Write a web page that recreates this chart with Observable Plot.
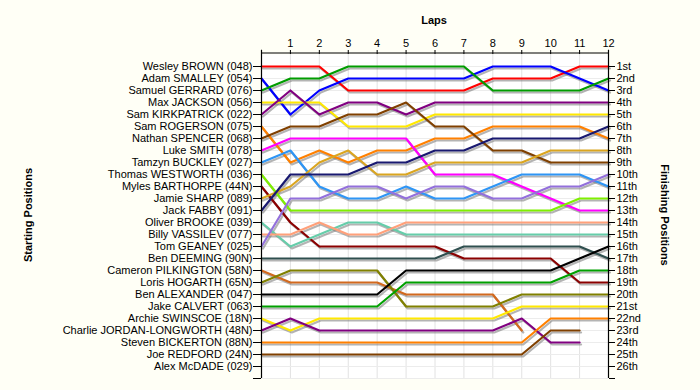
<!DOCTYPE html>
<html>
<head>
<meta charset="utf-8">
<script src="https://cdn.jsdelivr.net/npm/d3@7"></script>
<script src="https://cdn.jsdelivr.net/npm/@observablehq/plot@0.6"></script>
<style>
  html, body { margin: 0; padding: 0; background: #fffff6; }
  #chart { width: 700px; height: 390px; }
</style>
</head>
<body>
<div id="chart"></div>
<script>
const laps = [0,1,2,3,4,5,6,7,8,9,10,11,12];
const lapTicks = [1,2,3,4,5,6,7,8,9,10,11,12];
const drivers = [
  "Wesley BROWN (048)", "Adam SMALLEY (054)", "Samuel GERRARD (076)", "Max JACKSON (056)",
  "Sam KIRKPATRICK (022)", "Sam ROGERSON (075)", "Nathan SPENCER (068)", "Luke SMITH (078)",
  "Tamzyn BUCKLEY (027)", "Thomas WESTWORTH (036)", "Myles BARTHORPE (44N)", "Jamie SHARP (089)",
  "Jack FABBY (091)", "Oliver BROOKE (039)", "Billy VASSILEV (077)", "Tom GEANEY (025)",
  "Ben DEEMING (90N)", "Cameron PILKINGTON (58N)", "Loris HOGARTH (65N)", "Ben ALEXANDER (047)",
  "Jake CALVERT (063)", "Archie SWINSCOE (18N)", "Charlie JORDAN-LONGWORTH (48N)",
  "Steven BICKERTON (88N)", "Joe REDFORD (24N)", "Alex McDADE (029)"
];
const finishLabels = [
  "1st","2nd","3rd","4th","5th","6th","7th","8th","9th","10th","11th","12th","13th",
  "14th","15th","16th","17th","18th","19th","20th","21st","22nd","23rd","24th","25th","26th"
];
const colors = [
  "#ff0000","#0000ff","#009c00","#ffe800","#800080","#ff8000","#804000","#ff00ff",
  "#2e95f5","#7fef00","#8b0000","#daa520","#191970","#66cdaa","#ffa07a","#9370db",
  "#2f4f4f","#d2691e","#808000","#000000","#00a000","#ffe800","#800080","#ff8000","#804000","#888888"
];
// position of each driver after each lap (laps 0..12); null = not running
const positions = [
  [1,1,1,3,3,3,3,3,2,2,2,1,1],
  [2,5,3,2,2,2,2,2,1,1,1,2,3],
  [3,2,2,1,1,1,1,1,3,3,3,3,2],
  [4,4,4,6,6,6,5,5,5,5,5,5,5],
  [5,3,5,4,4,5,4,4,4,4,4,4,4],
  [6,9,8,9,8,8,7,7,6,6,6,6,7],
  [7,6,6,5,5,4,6,6,8,8,9,9,9],
  [8,7,7,7,7,7,10,10,10,11,12,13,13],
  [9,8,11,12,12,11,12,12,11,10,10,10,11],
  [10,13,13,13,13,13,13,13,13,13,13,12,12],
  [11,14,16,16,16,16,16,17,17,17,17,19,19],
  [12,11,9,8,10,10,9,9,9,9,8,8,8],
  [13,10,10,10,9,9,8,8,7,7,7,7,6],
  [14,16,15,14,14,15,15,15,15,15,15,15,15],
  [15,15,14,15,15,14,14,14,14,14,14,14,14],
  [16,12,12,11,11,12,11,11,12,12,11,11,10],
  [17,17,17,17,17,17,17,16,16,16,16,16,17],
  [18,19,19,19,19,20,20,20,20,23,null,null,null],
  [19,18,18,18,18,21,21,21,21,20,20,20,20],
  [20,20,20,20,20,18,18,18,18,18,18,17,16],
  [21,21,21,21,21,19,19,19,19,19,19,18,18],
  [22,23,22,22,22,22,22,22,22,21,21,21,21],
  [23,22,23,23,23,23,23,23,23,22,24,24,null],
  [24,24,24,24,24,24,24,24,24,24,22,22,22],
  [25,25,25,25,25,25,25,25,25,25,23,23,null],
  [null,null,null,null,null,null,null,null,null,null,null,null,null]
];

const rows = [];
positions.forEach((arr, i) => {
  arr.forEach((p, j) => {
    if (p != null) rows.push({driver: drivers[i], idx: i, lap: laps[j], pos: p});
  });
});
const yTicks = d3.range(1, 28);

const chart = Plot.plot({
  width: 700,
  height: 390,
  marginLeft: 261,
  marginRight: 92,
  marginTop: 54,
  marginBottom: 12,
  style: {fontFamily: "'Liberation Sans', Arial, sans-serif", fontSize: "11px", background: "transparent", color: "#000"},
  x: {domain: [0, 12], axis: null},
  y: {domain: [0, 27], reverse: true, axis: null},
  marks: [
    Plot.frame({fill: "white", stroke: "none"}),
    Plot.gridX(lapTicks.slice(0, 11), {stroke: "#e2e2e2", strokeOpacity: 1, strokeWidth: 1}),
    Plot.gridY(yTicks, {stroke: "#ececec", strokeOpacity: 1, strokeWidth: 1}),
    Plot.line(rows, {x: "lap", y: "pos", z: "driver", stroke: "#777", strokeOpacity: 0.55, strokeWidth: 2.2, dx: 1.5, dy: 2}),
    Plot.line(rows, {x: "lap", y: "pos", z: "driver", stroke: d => colors[d.idx], strokeWidth: 2.2}),
    Plot.ruleY([0], {stroke: "black", strokeWidth: 1.2, dy: -1.5}),
    Plot.ruleX([0, 12], {y1: -0.35, y2: 27, stroke: "black", strokeWidth: 1.2}),
    Plot.axisX(lapTicks, {anchor: "top", tickSize: 4, tickPadding: 3, dy: -1, label: null, fontSize: 11}),
    Plot.axisY(yTicks, {anchor: "left", tickSize: 8, tickPadding: 1, label: null, fontSize: 11,
      tickFormat: d => drivers[d - 1] ?? ""}),
    Plot.axisY(yTicks, {anchor: "right", tickSize: 6, tickPadding: 2, label: null, fontSize: 11,
      tickFormat: d => finishLabels[d - 1] ?? ""})
  ]
});

const svg = d3.select(chart);
svg.append("text").attr("x", 434).attr("y", 24).attr("text-anchor", "middle")
  .attr("font-weight", "bold").attr("font-size", 11).attr("fill", "#000").text("Laps");
svg.append("text").attr("transform", "translate(32,215) rotate(-90)").attr("text-anchor", "middle")
  .attr("font-weight", "bold").attr("font-size", 11).attr("fill", "#000").text("Starting Positions");
svg.append("text").attr("transform", "translate(661,215) rotate(90)").attr("text-anchor", "middle")
  .attr("font-weight", "bold").attr("font-size", 11).attr("fill", "#000").text("Finishing Positions");

document.getElementById("chart").appendChild(chart);
</script>
</body>
</html>
